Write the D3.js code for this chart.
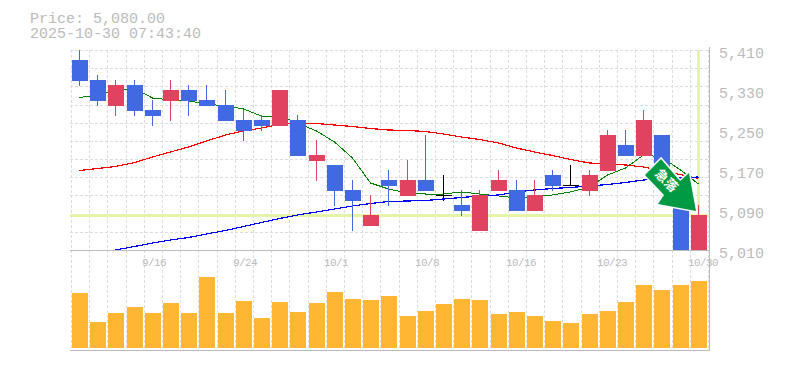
<!DOCTYPE html>
<html>
<head>
<meta charset="utf-8">
<script src="https://cdn.jsdelivr.net/npm/d3@7"></script>
<style>
	html, body { margin: 0; padding: 0; background: #fff; }
	text { font-family: "Liberation Mono", monospace; fill: #bbb; }
</style>
</head>
<body>
<div id="chart"></div>
<script>
const titleLines = ["Price: 5,080.00", "2025-10-30 07:43:40"]
const lastPrice = 5080
const opens = [5390,5350,5300,5340,5290,5310,5330,5310,5300,5270,5270,5260,5270,5190,5180,5130,5060,5150,5120,5150,5120,5100,5050,5130,5130,5090,5160,5140,5130,5170,5220,5200,5240,5130,5000]
const highs = [5410,5360,5350,5350,5310,5350,5340,5340,5330,5290,5280,5330,5280,5230,5180,5150,5120,5170,5190,5240,5160,5130,5130,5170,5150,5150,5170,5180,5170,5250,5250,5290,5240,5130,5100]
const lows = [5340,5300,5280,5280,5260,5270,5280,5300,5270,5230,5250,5260,5200,5150,5100,5050,5060,5100,5120,5130,5110,5080,5050,5130,5090,5090,5130,5140,5120,5170,5200,5200,5160,5000,5000]
const closes = [5350,5310,5340,5290,5280,5330,5310,5300,5270,5250,5260,5330,5200,5200,5130,5110,5080,5140,5150,5130,5120,5090,5120,5150,5090,5120,5140,5140,5160,5240,5200,5270,5160,5000,5080]
const volumes = [55,26,35,41,35,45,35,71,35,47,30,46,36,45,56,49,48,52,32,37,44,49,48,34,36,32,27,25,34,37,46,63,58,63,67]
const maShort = [5315,5320,5330,5333,5314,5310,5308,5302,5298,5292,5278,5278,5264,5248,5226,5194,5144,5132,5124,5122,5122,5126,5122,5118,5114,5116,5120,5126,5136,5160,5174,5200,5196,5170,5142]
const maMid = [5169,5173,5177,5185,5196,5206,5216,5228,5240,5248,5254,5261,5264,5263,5260,5257,5253,5250,5249,5247,5242,5236,5231,5224,5214,5206,5199,5191,5184,5182,5180,5176,5168,5161,5153]
const maLong = [null,null,5010,5017,5024,5030,5035,5042,5049,5057,5065,5073,5080,5086,5092,5098,5103,5107,5108,5109,5112,5115,5118,5120,5126,5130,5133,5135,5138,5141,5145,5150,5152,5154,5156]
const priceTicks = [5010,5090,5170,5250,5330,5410]
const dateTicks = [4,9,14,19,24,29,34]
const dateLabels = ["9/16","9/24","10/1","10/8","10/16","10/23","10/30"]
const arrowText = "急落"

const width = 785, height = 370
const plotLeft = 71, plotRight = 708, plotTop = 50, priceBottom = 250, volBottom = 348, volAxis = 350

const svg = d3.select("#chart").append("svg")
	.attr("width", width)
	.attr("height", height)
	.style("display", "block")

svg.append("defs").append("clipPath").attr("id", "plot")
	.append("rect")
	.attr("x", plotLeft - 1)
	.attr("y", plotTop)
	.attr("width", plotRight - plotLeft + 2)
	.attr("height", priceBottom - plotTop)

const x = d3.scaleBand().domain(d3.range(opens.length)).range([plotLeft, plotRight])
const y = d3.scaleLinear().domain([5010, 5410]).range([priceBottom, plotTop])
const yVol = d3.scaleLinear().domain([0, 80]).range([volBottom, volBottom - 80])

// pixel snapped slot left edge, the gridlines sit here and bars start 1px after
const slot = i => Math.round(x(i))
const center = i => slot(i) + 8.5

// grid
const grid = svg.append("g")
	.attr("stroke", "#ddd")
	.attr("stroke-dasharray", "3,2")
	.attr("shape-rendering", "crispEdges")
grid.selectAll(".v")
	.data(d3.range(opens.length + 1))
	.join("line")
	.attr("class", "v")
	.attr("x1", i => (i < opens.length ? slot(i) : plotRight) + 0.5)
	.attr("x2", i => (i < opens.length ? slot(i) : plotRight) + 0.5)
	.attr("y1", plotTop)
	.attr("y2", volAxis)
grid.selectAll(".h")
	.data(d3.range(11))
	.join("line")
	.attr("class", "h")
	.attr("x1", plotLeft - 1)
	.attr("x2", plotRight + 2)
	.attr("y1", i => Math.round(plotTop + i * (priceBottom - plotTop) / 11) + 0.5)
	.attr("y2", i => Math.round(plotTop + i * (priceBottom - plotTop) / 11) + 0.5)

// current price marker
const marker = svg.append("g")
	.attr("fill", "#e4f5a8")
	.attr("shape-rendering", "crispEdges")
marker.append("rect")
	.attr("x", plotLeft - 1)
	.attr("y", Math.round(y(lastPrice)) - 1)
	.attr("width", plotRight - plotLeft + 2)
	.attr("height", 3)
marker.append("rect")
	.attr("x", slot(34) + 7)
	.attr("y", plotTop)
	.attr("width", 3)
	.attr("height", y(lastPrice) - plotTop)

// moving averages
const plot = svg.append("g").attr("clip-path", "url(#plot)")
const maLine = d3.line()
	.defined(d => d !== null)
	.x((d, i) => center(i))
	.y(d => y(d))
const maSeries = [[maShort, "#008000", 1], [maMid, "#ff0000", 1.2], [maLong, "#0000ff", 1.2]]
plot.selectAll(".ma")
	.data(maSeries)
	.join("path")
	.attr("class", "ma")
	.attr("fill", "none")
	.attr("stroke", d => d[1])
	.attr("stroke-width", d => d[2])
	.attr("shape-rendering", "crispEdges")
	.attr("d", d => maLine(d[0]))

// candles
const candleColor = i => closes[i] > opens[i] ? "#e14260" : (closes[i] < opens[i] ? "#4169e1" : "#000")
const candle = plot.selectAll(".candle")
	.data(d3.range(opens.length))
	.join("g")
	.attr("class", "candle")
	.attr("fill", candleColor)
	.attr("shape-rendering", "crispEdges")
candle.append("rect")
	.attr("x", i => slot(i) + 8)
	.attr("width", 1)
	.attr("y", i => y(highs[i]))
	.attr("height", i => y(lows[i]) - y(highs[i]) + 1)
candle.append("rect")
	.attr("x", i => slot(i) + 1)
	.attr("width", 16)
	.attr("y", i => y(Math.max(opens[i], closes[i])))
	.attr("height", i => Math.abs(y(opens[i]) - y(closes[i])) + 1)

// volume
svg.append("g")
	.attr("fill", "#ffb733")
	.attr("shape-rendering", "crispEdges")
	.selectAll("rect")
	.data(volumes)
	.join("rect")
	.attr("x", (d, i) => slot(i) + 1)
	.attr("width", 16)
	.attr("y", d => yVol(d))
	.attr("height", d => volBottom - yVol(d))

// frame
const frame = svg.append("g")
	.attr("stroke", "#bbb")
	.attr("shape-rendering", "crispEdges")
frame.append("line").attr("x1", plotLeft - 1).attr("x2", plotRight + 2).attr("y1", priceBottom + 0.5).attr("y2", priceBottom + 0.5)
frame.append("line").attr("x1", plotLeft - 1).attr("x2", plotRight + 2).attr("y1", volAxis + 0.5).attr("y2", volAxis + 0.5)
frame.append("line").attr("x1", plotRight + 1.5).attr("x2", plotRight + 1.5).attr("y1", plotTop - 3).attr("y2", volAxis + 1)

// axes
const priceAxis = svg.append("g")
	.attr("transform", `translate(${plotRight + 11},0)`)
	.call(d3.axisRight(y).tickValues(priceTicks).tickSize(0).tickPadding(0).tickFormat(d3.format(",")))
priceAxis.select(".domain").remove()
priceAxis.selectAll("text")
	.attr("dy", "0.5em")
	.style("font-size", "15px")
	.style("font-family", '"Liberation Mono", monospace')

const dateAxis = svg.append("g")
	.attr("transform", `translate(0,${priceBottom})`)
	.call(d3.axisBottom(d3.scalePoint().domain(dateTicks).range([0, 1]))
		.tickValues(dateTicks).tickSize(0).tickFormat((d, i) => dateLabels[i]))
dateAxis.select(".domain").remove()
dateAxis.selectAll(".tick")
	.attr("transform", d => `translate(${slot(d) - 2},0)`)
dateAxis.selectAll("text")
	.attr("text-anchor", "start")
	.attr("y", 16)
	.attr("dy", 0)
	.style("font-size", "11px")
	.style("letter-spacing", "-0.6px")
	.style("font-family", '"Liberation Mono", monospace')

// title
svg.append("g").selectAll("text")
	.data(titleLines)
	.join("text")
	.attr("x", 30)
	.attr("y", (d, i) => 23 + i * 15)
	.style("font-size", "15px")
	.text(d => d)

// arrow
const arrow = svg.append("g")
arrow.append("polygon")
	.attr("points", "661,159 645,175 664,195 658,204 696,211 689,173 680,181")
	.attr("fill", "#009944")
	.attr("stroke", "#fff")
	.attr("stroke-width", 3)
	.attr("paint-order", "stroke")
	.attr("stroke-linejoin", "miter")
arrow.append("text")
	.attr("transform", "translate(666.5,180.5) rotate(45)")
	.attr("text-anchor", "middle")
	.attr("dy", "0.36em")
	.style("font-family", '"Noto Sans CJK JP", sans-serif')
	.style("font-size", "13px")
	.style("font-weight", "bold")
	.style("fill", "#fff")
	.text(arrowText)
</script>
</body>
</html>
